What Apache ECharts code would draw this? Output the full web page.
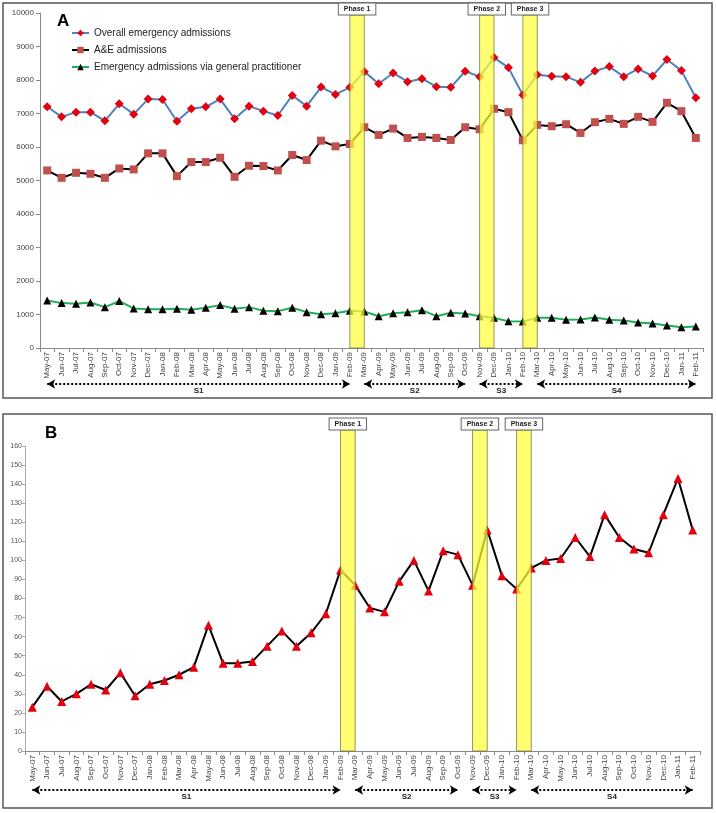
<!DOCTYPE html>
<html>
<head>
<meta charset="utf-8">
<script src="https://cdn.jsdelivr.net/npm/echarts@6/dist/echarts.min.js"></script>
<style>
  html, body { margin: 0; padding: 0; background: #fff; }
  #chart { width: 716px; height: 813px; }
</style>
</head>
<body>
<div id="chart"></div>
<script>
var months = ['May-07', 'Jun-07', 'Jul-07', 'Aug-07', 'Sep-07', 'Oct-07', 'Nov-07', 'Dec-07',
  'Jan-08', 'Feb-08', 'Mar-08', 'Apr-08', 'May-08', 'Jun-08', 'Jul-08', 'Aug-08', 'Sep-08', 'Oct-08', 'Nov-08', 'Dec-08',
  'Jan-09', 'Feb-09', 'Mar-09', 'Apr-09', 'May-09', 'Jun-09', 'Jul-09', 'Aug-09', 'Sep-09', 'Oct-09', 'Nov-09', 'Dec-09',
  'Jan-10', 'Feb-10', 'Mar-10', 'Apr-10', 'May-10', 'Jun-10', 'Jul-10', 'Aug-10', 'Sep-10', 'Oct-10', 'Nov-10', 'Dec-10',
  'Jan-11', 'Feb-11']

// panel A
var overallAdmissions = [7200, 6900, 7040, 7040, 6780, 7290, 6980, 7430, 7420, 6770,
  7140, 7200, 7430, 6840, 7220, 7070, 6940, 7540, 7220, 7790, 7570, 7780,
  8250, 7890, 8210, 7950, 8040, 7800, 7780, 8260, 8100, 8670,
  8370, 7550, 8160, 8110, 8100, 7930, 8270, 8400, 8100, 8330, 8120, 8610, 8280, 7470]
var aeAdmissions = [5300, 5080, 5230, 5200, 5080, 5360, 5330, 5810, 5810, 5130,
  5550, 5550, 5680, 5110, 5440, 5430, 5300, 5760, 5610, 6190, 6020, 6090,
  6590, 6360, 6550, 6270, 6300, 6270, 6210, 6590, 6530, 7140,
  7040, 6200, 6660, 6620, 6680, 6420, 6740, 6840, 6690, 6900, 6750, 7320, 7070, 6270]
var gpAdmissions = [1420, 1340, 1320, 1360, 1220, 1400, 1180, 1160, 1160, 1170,
  1140, 1200, 1280, 1170, 1220, 1110, 1100, 1200, 1070, 1010, 1040, 1110,
  1090, 950, 1040, 1070, 1130, 950, 1050, 1030, 950, 900,
  800, 790, 900, 900, 840, 850, 910, 840, 820, 760, 730, 670, 620, 640]

// panel B
var panelBValues = [23, 34, 26, 30, 35, 32, 41, 29, 35, 37,
  40, 44, 66, 46, 46, 47, 55, 63, 55, 62, 72, 95,
  87, 75, 73, 89, 100, 84, 105, 103, 87, 116,
  92, 85, 96, 100, 101, 112, 102, 124, 112, 106, 104, 124, 143, 116]

var phases = [['Phase 1', 'Feb-09', 'Mar-09'], ['Phase 2', 'Nov-09', 'Dec-09'], ['Phase 3', 'Feb-10', 'Mar-10']]
var periods = [['S1', 'May-07', 'Feb-09'], ['S2', 'Mar-09', 'Oct-09'], ['S3', 'Nov-09', 'Feb-10'], ['S4', 'Mar-10', 'Feb-11']]

var font = 'Arial, "Liberation Sans", sans-serif'

function catAxis(gridIndex, visible, labelSize) {
  return {
    gridIndex: gridIndex,
    type: 'category',
    data: months,
    boundaryGap: true,
    show: visible,
    axisLine: { lineStyle: { color: '#8a8a8a' } },
    axisTick: { show: true, interval: 0, length: 4, lineStyle: { color: '#8a8a8a' } },
    axisLabel: { interval: 0, rotate: 90, fontSize: labelSize, color: '#444', fontFamily: font, margin: 4 },
    splitLine: { show: false }
  }
}

function hiddenY(gridIndex) {
  return { gridIndex: gridIndex, type: 'value', min: 0, max: 1, show: false, splitLine: { show: false } }
}

function bandSeries(axisIndex) {
  return {
    type: 'line',
    xAxisIndex: axisIndex,
    yAxisIndex: axisIndex,
    data: [],
    z: 10,
    silent: true,
    markArea: {
      silent: true,
      z: 10,
      itemStyle: { color: '#ffff3a', opacity: 0.72, borderColor: '#6e6e3c', borderWidth: 1 },
      label: {
        show: true, position: 'top', distance: 0,
        fontSize: 7, fontWeight: 'bold', fontFamily: font, color: '#222',
        backgroundColor: '#fff', borderColor: '#666', borderWidth: 1, padding: [2, 5, 2, 5]
      },
      data: phases.map(function (p) { return [{ name: p[0], xAxis: p[1] }, { xAxis: p[2] }] })
    }
  }
}

function periodSeries(axisIndex) {
  return {
    type: 'line',
    xAxisIndex: axisIndex,
    yAxisIndex: axisIndex,
    data: [],
    silent: true,
    markLine: {
      silent: true,
      symbol: ['arrow', 'arrow'],
      symbolSize: [7, 8],
      lineStyle: { type: 'dotted', color: '#000', width: 2 },
      label: {
        show: true, position: 'insideMiddleBottom', distance: 3, formatter: '{b}',
        fontSize: 8, fontWeight: 'bold', fontFamily: font, color: '#222'
      },
      data: periods.map(function (p) { return [{ name: p[0], coord: [p[1], 0.5] }, { coord: [p[2], 0.5] }] })
    }
  }
}

var chart = echarts.init(document.getElementById('chart'))
chart.setOption({
  animation: false,
  backgroundColor: '#fff',
  title: [
    { text: 'A', left: 52, top: 8, textStyle: { fontSize: 17, fontWeight: 'bold', fontFamily: font, color: '#000' } },
    { text: 'B', left: 40, top: 420, textStyle: { fontSize: 17, fontWeight: 'bold', fontFamily: font, color: '#000' } }
  ],
  graphic: [
    { type: 'rect', shape: { x: 3, y: 3, width: 709, height: 395 }, style: { fill: 'none', stroke: '#555', lineWidth: 1.5 }, z: 0 },
    { type: 'rect', shape: { x: 3, y: 414, width: 709, height: 394 }, style: { fill: 'none', stroke: '#555', lineWidth: 1.5 }, z: 0 }
  ],
  legend: {
    data: ['Overall emergency admissions', 'A&E admissions', 'Emergency admissions via general practitioner'],
    orient: 'vertical',
    left: 66,
    top: 23,
    itemWidth: 17,
    itemHeight: 8,
    itemGap: 7,
    textStyle: { fontSize: 10, fontFamily: font, color: '#222' }
  },
  grid: [
    { left: 40, right: 13, top: 13, height: 335 },   // A main
    { left: 40, right: 13, top: 15, height: 333 },   // A bands
    { left: 40, right: 13, top: 380, height: 8 },    // A periods
    { left: 25, right: 16, top: 446, height: 305 },  // B main
    { left: 25, right: 16, top: 430, height: 321 },  // B bands
    { left: 25, right: 16, top: 786, height: 8 }     // B periods
  ],
  xAxis: [
    catAxis(0, true, 8), catAxis(1, false, 8), catAxis(2, false, 8),
    catAxis(3, true, 8), catAxis(4, false, 8), catAxis(5, false, 8)
  ],
  yAxis: [
    {
      gridIndex: 0, type: 'value', min: 0, max: 10000, interval: 1000,
      axisLine: { show: true, lineStyle: { color: '#8a8a8a' } },
      axisTick: { show: true, length: 4, lineStyle: { color: '#8a8a8a' } },
      axisLabel: { fontSize: 8, color: '#444', fontFamily: font, margin: 6, formatter: function (v) { return String(v) } },
      splitLine: { show: false }
    },
    hiddenY(1), hiddenY(2),
    {
      gridIndex: 3, type: 'value', min: 0, max: 160, interval: 10,
      axisLine: { show: true, lineStyle: { color: '#aaa' } },
      axisTick: { show: true, length: 3, lineStyle: { color: '#aaa' } },
      axisLabel: { fontSize: 7, color: '#555', fontFamily: font, margin: 3 },
      splitLine: { show: false }
    },
    hiddenY(4), hiddenY(5)
  ],
  series: [
    {
      name: 'Overall emergency admissions', type: 'line', xAxisIndex: 0, yAxisIndex: 0,
      data: overallAdmissions, symbol: 'diamond', symbolSize: 9, z: 3,
      lineStyle: { color: '#4f81bd', width: 2 }, itemStyle: { color: '#e3000f' }
    },
    {
      name: 'A&E admissions', type: 'line', xAxisIndex: 0, yAxisIndex: 0,
      data: aeAdmissions, symbol: 'rect', symbolSize: 8, z: 3,
      lineStyle: { color: '#000', width: 2 }, itemStyle: { color: '#c0504d' }
    },
    {
      name: 'Emergency admissions via general practitioner', type: 'line', xAxisIndex: 0, yAxisIndex: 0,
      data: gpAdmissions, symbol: 'triangle', symbolSize: 8, z: 3,
      lineStyle: { color: '#1daf58', width: 2 }, itemStyle: { color: '#000' }
    },
    bandSeries(1),
    periodSeries(2),
    {
      name: 'Panel B', type: 'line', xAxisIndex: 3, yAxisIndex: 3,
      data: panelBValues, symbol: 'triangle', symbolSize: 9, z: 3,
      lineStyle: { color: '#000', width: 2 }, itemStyle: { color: '#e3000f' }
    },
    bandSeries(4),
    periodSeries(5)
  ]
})
</script>
</body>
</html>
